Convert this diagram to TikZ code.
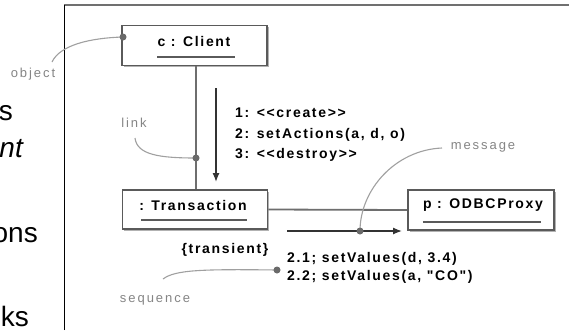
\documentclass[tikz,border=0pt]{standalone}
\usepackage{fontspec}
\setmainfont{Liberation Sans}
\newfontfamily\diagfont{Liberation Sans}[LetterSpace=12]
\newfontfamily\notefont{Liberation Sans}[LetterSpace=15]
\usetikzlibrary{arrows.meta,shadows}
\definecolor{boxline}{HTML}{5A5A5A}
\definecolor{linkgray}{HTML}{6E6E6E}
\definecolor{curvegray}{HTML}{A0A0A0}
\definecolor{notegray}{HTML}{858585}
\definecolor{dotgray}{HTML}{6A6A6A}
\definecolor{framegray}{HTML}{707070}
\begin{document}
\begin{tikzpicture}[x=1pt,y=-1pt,
  objbox/.style={draw=boxline, line width=1.8pt, minimum width=145pt, minimum height=40pt,
    inner sep=0pt, fill=white,
    drop shadow={shadow xshift=1.6pt, shadow yshift=-1.6pt, fill=black!30, opacity=1}},
  objname/.style={font=\diagfont\bfseries\fontsize{14}{16}\selectfont, inner sep=0pt, anchor=base},
  msgtext/.style={font=\diagfont\bfseries\fontsize{14}{16}\selectfont, inner sep=0pt, anchor=base west},
  notetext/.style={font=\notefont\fontsize{13}{15}\selectfont, text=notegray, inner sep=0pt, anchor=base},
  pointer/.style={draw=curvegray, line width=1.1pt},
  dotmark/.style={circle, fill=dotgray, inner sep=0pt, minimum size=7pt},
  linkline/.style={draw=linkgray, line width=1.8pt},
  uline/.style={draw=boxline, line width=1.4pt},
  msgarrow/.style={draw=black!80, line width=1.3pt, -{Latex[length=9pt,width=7pt]}},
  slidetext/.style={font=\fontsize{28}{32}\selectfont, anchor=base east, inner sep=0pt}]
\useasboundingbox (0,0) rectangle (569,330);
\clip (0,0) rectangle (569,330);
\fill[white] (0,0) rectangle (569,330);

% slide fragments at the left
\node[slidetext] (s1) at (13,120.5) {s};
\node[slidetext, font=\itshape\fontsize{28}{32}\selectfont] (s2) at (23,157) {nt};
\node[slidetext] (s3) at (38,242) {ons};
\node[slidetext] (s4) at (29,326) {nks};

% frame
\draw[framegray, line width=1.5pt] (64,5) -- (569,5);
\draw[black, line width=1pt] (64,330) -- (64,5);

% objects
\node[objbox] (client) at (194.5,45.5) {};
\node[objbox, minimum height=39pt] (trans) at (195,209.5) {};
\node[objbox, minimum width=146pt] (odbc) at (481,210) {};

\node[objname] (ctext) at (194,46) {c : Client};
\node[objname] (ttext) at (193,210) {: Transaction};
\node[objname] (ptext) at (483,208) {p : ODBCProxy};
\draw[uline] (ctext.west |- 0,57) -- ([xshift=4pt]ctext.east |- 0,57);
\draw[uline] ([xshift=2pt]ttext.west |- 0,220) -- (ttext.east |- 0,220);
\draw[uline] (ptext.west |- 0,222) -- ([xshift=-2pt]ptext.east |- 0,222);

% coordinates
\coordinate (linkdot) at (196,158);
\coordinate (objdot) at (123,37);
\coordinate (msgdot) at (360,231);
\coordinate (seqdot) at (277,270);
\coordinate (objtail) at (52,62);
\coordinate (linktail) at (135,138);
\coordinate (msgtail) at (442,148);
\coordinate (seqtail) at (163,279);
\coordinate (a1) at (216,88);
\coordinate (a2) at (216,182);
\coordinate (b1) at (287,231);
\coordinate (b2) at (402,231);

% links
\draw[linkline] (client.south -| linkdot) -- (trans.north -| linkdot);
\draw[linkline] (trans.east) -- (odbc.west);

% messages
\draw[msgarrow] (a1) -- (a2);
\draw[msgarrow] (b1) -- (b2);
\node[msgtext] (m1) at (235,117) {1: <<create>>};
\node[msgtext] (m2) at (235,138) {2: setActions(a, d, o)};
\node[msgtext] (m3) at (235,158) {3: <<destroy>>};
\node[msgtext] (m21) at (287,262) {2.1; setValues(d, 3.4)};
\node[msgtext] (m22) at (287,280) {2.2; setValues(a, "CO")};
\node[objname] (trn) at (225,253) {\{transient\}};

% annotation pointers
\draw[pointer] (objtail) .. controls (60,45) and (90,38) .. (objdot);
\draw[pointer] (linktail) .. controls (137,155) and (160,158) .. (linkdot);
\draw[pointer] (msgdot) .. controls (360,190) and (395,150) .. (msgtail);
\draw[pointer] (seqtail) .. controls (175,270) and (200,269) .. (seqdot);
\node[dotmark] at (objdot) {};
\node[dotmark] at (linkdot) {};
\node[dotmark] at (msgdot) {};
\node[dotmark] at (seqdot) {};

\node[notetext] (lobj) at (33,77) {object};
\node[notetext] (llink) at (134,127) {link};
\node[notetext] (lmsg) at (483,149) {message};
\node[notetext] (lseq) at (155,302) {sequence};
\end{tikzpicture}
\end{document}
